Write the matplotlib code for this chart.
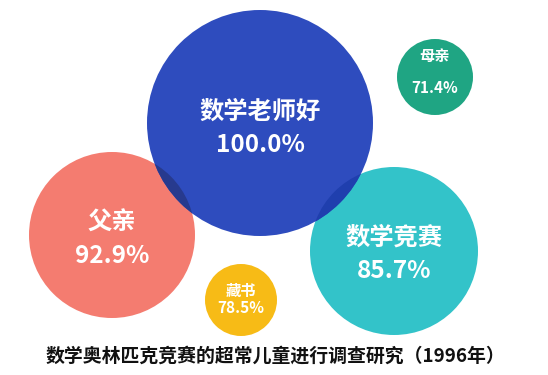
import matplotlib
matplotlib.use('Agg')
import matplotlib.pyplot as plt
from matplotlib.patches import Circle

plt.rcParams['font.family'] = ['Noto Sans CJK SC', 'DejaVu Sans']

# survey data
labels = ['数学老师好', '父亲', '数学竞赛', '母亲', '藏书']
values = [100.0, 92.9, 85.7, 71.4, 78.5]
title = '数学奥林匹克竞赛的超常儿童进行调查研究（1996年）'

# bubble layout (pixel space)
cx = [260, 112, 394, 435, 241]
cy = [123, 235, 251, 77, 300]
radius = [113, 83, 84, 38, 36]
colors = ['#2E4CBE', '#F47C70', '#33C3C9', '#1FA583', '#F7BB16']
name_size = [17.5, 17.5, 17.5, 11, 11]
name_dy = [-11, -12, -13, -21, -9]
val_dy = [22, 21, 20, 11, 8]

fig = plt.figure(figsize=(5.48, 3.75), dpi=100)
ax = fig.add_axes([0, 0, 1, 1])
ax.set_xlim(0, 548)
ax.set_ylim(375, 0)
ax.set_aspect('equal')
ax.axis('off')

order = [1, 2, 3, 4, 0]
for i in order:
    c = Circle((cx[i], cy[i]), radius[i], facecolor=colors[i], edgecolor='none', zorder=2)
    ax.add_patch(c)

# darker overlaps of the big blue bubble with its neighbours
for j, col in [(1, '#273A8E'), (2, '#1F3FAE')]:
    ov = Circle((cx[0], cy[0]), radius[0], facecolor=col, edgecolor='none', zorder=3)
    ax.add_patch(ov)
    ov.set_clip_path(Circle((cx[j], cy[j]), radius[j], transform=ax.transData))

for i in range(len(labels)):
    ax.text(cx[i], cy[i] + name_dy[i], labels[i], color='white', fontsize=name_size[i],
            fontweight='bold', ha='center', va='center', zorder=5)
    ax.text(cx[i], cy[i] + val_dy[i], f'{values[i]:.1f}%', color='white', fontsize=name_size[i],
            fontweight='bold', ha='center', va='center', zorder=5)

ax.text(275, 356, title, fontsize=13.6, fontweight='bold', color='#111111',
        ha='center', va='center')

fig.savefig('out.png', dpi=100, facecolor='white')
